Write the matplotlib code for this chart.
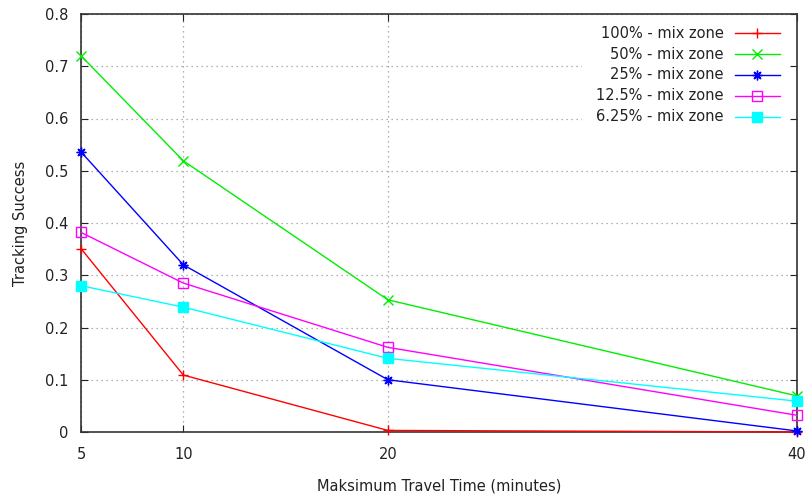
import matplotlib
matplotlib.use("Agg")
import matplotlib.pyplot as plt
from matplotlib.lines import Line2D
from matplotlib.patches import Rectangle

travel_time = [5, 10, 20, 40]
series_labels = ["100% - mix zone", "50% - mix zone", "25% - mix zone",
                 "12.5% - mix zone", "6.25% - mix zone"]
success_100 = [0.351, 0.109, 0.003, 0.0]
success_50 = [0.720, 0.519, 0.253, 0.069]
success_25 = [0.536, 0.320, 0.100, 0.002]
success_12_5 = [0.382, 0.285, 0.162, 0.032]
success_6_25 = [0.280, 0.239, 0.141, 0.059]
y_ticks = [0, 0.1, 0.2, 0.3, 0.4, 0.5, 0.6, 0.7, 0.8]
y_tick_labels = ["0", "0.1", "0.2", "0.3", "0.4", "0.5", "0.6", "0.7", "0.8"]

all_series = [success_100, success_50, success_25, success_12_5, success_6_25]
colors = ["#ff0000", "#00ee00", "#0000ff", "#ff00ff", "#00ffff"]
markers = ["+", "x", (8, 2, 0), "s", "s"]
fills = ["full", "full", "full", "none", "full"]

plt.rcParams["font.family"] = "DejaVu Sans"
fig = plt.figure(figsize=(8.12, 5.0), dpi=100)
ax = fig.add_axes([0.0998, 0.136, 0.8817, 0.836])

for vals, col, mk, fs in zip(all_series, colors, markers, fills):
    ax.plot(travel_time, vals, color=col, lw=1.0, marker=mk, markersize=7,
            fillstyle=fs, markeredgewidth=1.0, clip_on=False, zorder=3)

ax.set_xlim(5, 40)
ax.set_ylim(0, 0.8)
ax.set_xticks(travel_time)
ax.set_yticks(y_ticks)
ax.set_yticklabels(y_tick_labels)
ax.tick_params(direction="in", top=True, right=True, length=5, labelsize=10.5,
               colors="#222222")
ax.tick_params(axis="x", pad=11)
ax.tick_params(axis="y", pad=9)
ax.grid(True, linestyle=(0, (1, 3)), color="#999999", lw=0.9)
for s in ax.spines.values():
    s.set_color("#333333")
    s.set_linewidth(1.2)

ax.set_xlabel("Maksimum Travel Time (minutes)", fontsize=10.5, color="#222222", labelpad=12)
ax.set_ylabel("Tracking Success", fontsize=10.5, color="#222222", labelpad=12)

# gnuplot-style key: opaque box without border, right-aligned text, sample to the right
ax.add_patch(Rectangle((0.70, 0.734), 0.29, 0.255, transform=ax.transAxes,
                       facecolor="white", edgecolor="none", zorder=2))
text_x, line_x0, line_x1 = 0.898, 0.913, 0.976
row_y0, row_step = 0.9545, 0.0502
for i, (lab, col, mk, fs) in enumerate(zip(series_labels, colors, markers, fills)):
    y = row_y0 - i * row_step
    ax.text(text_x, y, lab, transform=ax.transAxes, ha="right", va="center",
            fontsize=10.5, color="#222222", zorder=4)
    ax.add_line(Line2D([line_x0, (line_x0 + line_x1) / 2, line_x1], [y, y, y],
                       transform=ax.transAxes, color=col, lw=1.0, marker=mk,
                       markersize=7, fillstyle=fs, markeredgewidth=1.0,
                       markevery=[1], clip_on=False, zorder=4))

fig.savefig("out.png", dpi=100)
